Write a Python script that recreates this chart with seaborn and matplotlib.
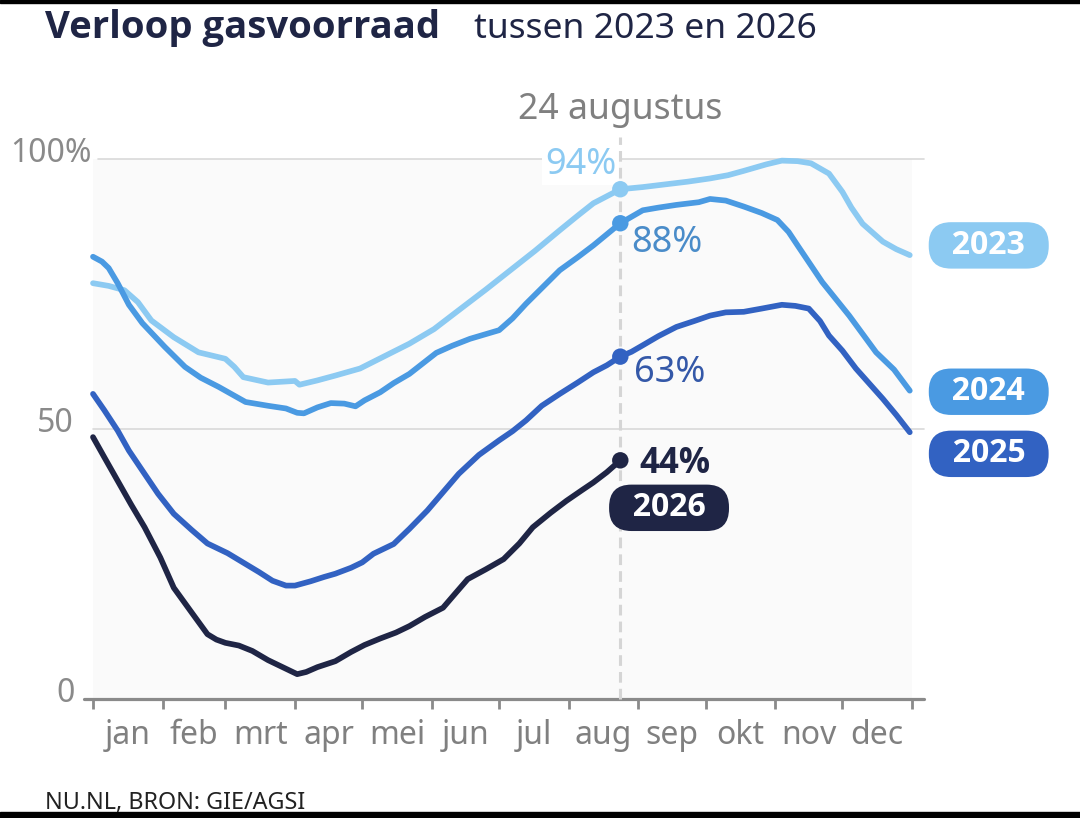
import numpy as np
import pandas as pd
import matplotlib
matplotlib.use("Agg")
import matplotlib.pyplot as plt
import matplotlib.transforms as mtransforms
from matplotlib.patches import Rectangle
import seaborn as sns

# ---------------- data ----------------
years = ["2023", "2024", "2025", "2026"]

days_2023 = [0, 7, 14, 20, 26, 36, 47, 59, 63, 67, 78, 90, 92, 100, 108, 119, 130, 141, 152, 163,
             175, 186, 197, 208, 216, 223, 235, 245, 253, 265, 275, 283, 290, 300, 307, 314, 320,
             328, 334, 338, 343, 352, 358, 364]
vals_2023 = [77.0, 76.5, 75.7, 73.5, 70.1, 67.0, 64.2, 63.0, 61.5, 59.6, 58.6, 58.9, 58.2, 59.0, 59.9,
             61.2, 63.5, 65.8, 68.5, 72.0, 75.8, 79.4, 83.0, 86.8, 89.5, 91.8, 94.4, 94.8, 95.2, 95.8,
             96.4, 97.0, 97.8, 99.0, 99.7, 99.6, 99.2, 97.3, 93.9, 91.0, 88.0, 84.7, 83.3, 82.2]

days_2024 = [0, 4, 7, 11, 16, 22, 32, 41, 48, 56, 68, 78, 86, 91, 94, 100, 106, 112, 117, 121, 128,
             134, 141, 153, 160, 168, 181, 187, 193, 208, 216, 223, 235, 245, 252, 260, 270, 275,
             282, 290, 298, 305, 310, 314, 325, 337, 349, 357, 364]
vals_2024 = [81.9, 81.0, 79.8, 77.0, 73.0, 69.6, 65.2, 61.5, 59.5, 57.8, 55.0, 54.3, 53.8, 53.0, 52.9,
             54.0, 54.8, 54.7, 54.2, 55.3, 56.8, 58.5, 60.2, 64.1, 65.4, 66.7, 68.3, 70.5, 73.2, 79.4,
             81.8, 84.0, 88.1, 90.5, 91.0, 91.5, 92.0, 92.6, 92.3, 91.2, 90.0, 88.7, 86.5, 84.0, 77.2,
             71.0, 64.2, 61.0, 57.1]

days_2025 = [0, 5, 11, 16, 22, 29, 36, 44, 51, 60, 68, 74, 80, 86, 90, 97, 103, 108, 115, 120, 125,
             134, 141, 149, 156, 163, 172, 181, 187, 193, 200, 208, 216, 223, 229, 235, 240, 245,
             252, 260, 268, 275, 282, 290, 298, 307, 313, 319, 324, 328, 334, 340, 346, 352, 358, 364]
vals_2025 = [56.5, 53.5, 49.7, 46.0, 42.3, 38.0, 34.3, 31.3, 28.8, 27.0, 25.0, 23.5, 21.9, 21.0, 21.0,
             21.8, 22.6, 23.2, 24.3, 25.3, 26.9, 28.7, 31.5, 34.9, 38.3, 41.7, 45.2, 47.9, 49.6, 51.6,
             54.3, 56.5, 58.6, 60.5, 61.8, 63.4, 64.3, 65.5, 67.2, 68.9, 70.0, 71.0, 71.6, 71.7, 72.3,
             73.0, 72.8, 72.3, 70.0, 67.3, 64.5, 61.2, 58.4, 55.6, 52.6, 49.4]

days_2026 = [0, 5, 11, 17, 23, 30, 36, 44, 51, 55, 59, 65, 71, 78, 85, 91, 95, 100, 108, 115, 121,
             128, 135, 141, 148, 156, 162, 167, 175, 183, 190, 196, 204, 211, 218, 223, 229, 235]
vals_2026 = [48.5, 44.8, 40.4, 36.0, 31.8, 26.2, 20.6, 16.0, 12.0, 11.0, 10.4, 9.9, 8.9, 7.2, 5.8, 4.6,
             5.0, 5.9, 7.0, 8.7, 10.0, 11.2, 12.3, 13.5, 15.2, 16.9, 19.8, 22.2, 24.0, 25.9, 28.8,
             31.8, 34.5, 36.7, 38.7, 40.1, 42.0, 44.2]

months = ["jan", "feb", "mrt", "apr", "mei", "jun", "jul", "aug", "sep", "okt", "nov", "dec"]
month_starts = [0, 31, 59, 90, 120, 151, 181, 212, 243, 273, 304, 334, 365]
y_ticks = [0, 50, 100]
y_tick_labels = ["0", "50", "100%"]

marker_day = 235
date_label = "24 augustus"
pct_labels = ["94%", "88%", "63%", "44%"]

title = "Verloop gasvoorraad"
subtitle = "tussen 2023 en 2026"
source = "NU.NL, BRON: GIE/AGSI"

colors = {"2023": "#8ccaf2", "2024": "#4a9ae2", "2025": "#3262c2", "2026": "#1f2545"}
pct_colors = {"2023": "#8ccaf2", "2024": "#4a8cc9", "2025": "#3458a8", "2026": "#1f2545"}

# ---------------- frame ----------------
series = {"2023": (days_2023, vals_2023), "2024": (days_2024, vals_2024),
          "2025": (days_2025, vals_2025), "2026": (days_2026, vals_2026)}
df = pd.concat([pd.DataFrame({"day": d, "value": v, "year": y}) for y, (d, v) in series.items()],
               ignore_index=True)

sns.set_theme(style="white")
plt.rcParams["font.family"] = ["Noto Sans", "DejaVu Sans"]
BOLD = ["Open Sans", "Noto Sans", "DejaVu Sans"]

W, H = 1080, 818
fig = plt.figure(figsize=(W / 100, H / 100), dpi=100)
fig.patch.set_facecolor("white")
ax = fig.add_axes([93 / W, 1 - 699 / H, 819 / W, 540 / H])
ax.set_facecolor("#fafafa")
for s in ax.spines.values():
    s.set_visible(False)

ax.set_xlim(0, 365)
ax.set_ylim(0, 100)

# grid lines
ax.axhline(50, xmin=0, xmax=831 / 819, color="#d9d9d9", lw=1.2, clip_on=False, zorder=0.5)
ax.axhline(100, xmin=5 / 819, xmax=831 / 819, color="#d9d9d9", lw=1.2, clip_on=False, zorder=0.5)
ax.axhline(0, xmin=-9 / 819, xmax=831 / 819, color="#8a8a8a", lw=2.3, clip_on=False, zorder=3)

# dashed date line
ax.axvline(marker_day, ymin=0, ymax=(699 - 137) / 540, color="#d5d5d5", lw=2.2,
           ls=(0, (3.5, 2.0)), clip_on=False, zorder=4)

sns.lineplot(data=df, x="day", y="value", hue="year", palette=colors, hue_order=years,
             linewidth=4.1, legend=False, ax=ax, estimator=None, sort=False,
             solid_capstyle="round", solid_joinstyle="round", clip_on=False, zorder=3)

sub = df[df["day"] == marker_day]
sns.scatterplot(data=sub, x="day", y="value", hue="year", palette=colors, hue_order=years,
                s=140, legend=False, ax=ax, edgecolor="none", zorder=5, clip_on=False)

ax.set_xlabel("")
ax.set_ylabel("")
ax.set_xticks(month_starts)
ax.set_xticklabels([])
ax.set_yticks([])
ax.tick_params(axis="x", bottom=True, length=7, width=2, color="#8a8a8a", direction="out")

tr_x = mtransforms.blended_transform_factory(ax.transData, ax.transAxes)
tr_y = mtransforms.blended_transform_factory(ax.transAxes, ax.transData)

for i, m in enumerate(months):
    mid = (month_starts[i] + month_starts[i + 1]) / 2
    ax.text(mid, -0.084, m, transform=tr_x, ha="center", va="baseline", fontsize=23, color="#808080")

y_label_x = {0: -18 / 819, 50: -19 / 819, 100: -1 / 819}
for v, lab in zip(y_ticks, y_tick_labels):
    ax.text(y_label_x[v], v + 1.0, lab, transform=tr_y, ha="right", va="center",
            fontsize=23, color="#8a8a8a")

ax.text(marker_day, (699 - 119.3) / 540, date_label, transform=tr_x, ha="center",
        va="baseline", fontsize=25.6, color="#808080")

# value labels at the date line
offsets = {"2023": (-2.7, 11.3, "right"), "2024": (8.1, -20.4, "left"),
           "2025": (9.6, -18.4, "left"), "2026": (13.7, -9.1, "left")}
for y, lab in zip(years, pct_labels):
    val = sub.loc[sub["year"] == y, "value"].iloc[0]
    dx, dy, ha = offsets[y]
    kw = {}
    if y == "2023":
        kw["bbox"] = dict(boxstyle="square,pad=0.08", fc="white", ec="none")
    if y == "2026":
        kw["family"] = BOLD
        kw["fontweight"] = "bold"
    ax.annotate(lab, xy=(marker_day, val), xytext=(dx, dy), textcoords="offset points",
                ha=ha, va="baseline", fontsize=26 if y != "2026" else 25,
                color=pct_colors[y], zorder=3.5, annotation_clip=False, **kw)

# year pills
pill_dy = {"2023": 1.8, "2024": -0.2, "2025": -4.0}
for y in ["2023", "2024", "2025"]:
    last = series[y][1][-1]
    ax.text(1.0937, last + pill_dy[y], "  " + y + "  ", transform=tr_y, ha="center", va="center",
            fontsize=23, fontweight="bold", family=BOLD, color="white", zorder=6,
            bbox=dict(boxstyle="round,pad=0.21,rounding_size=0.7", fc=colors[y], ec="none"))
last26 = series["2026"][1][-1]
ax.annotate("  2026  ", xy=(marker_day, last26), xytext=(35.1, -34.2), textcoords="offset points",
            ha="center", va="center", fontsize=23, fontweight="bold", family=BOLD, color="white",
            annotation_clip=False, zorder=6,
            bbox=dict(boxstyle="round,pad=0.21,rounding_size=0.7", fc=colors["2026"], ec="none"))

# titles
fig.text(45 / W, 1 - 38 / H, title, fontsize=27.5, fontweight="bold", family=BOLD,
         color="#1f2545", va="baseline")
fig.text(474 / W, 1 - 38 / H, subtitle, fontsize=25.5, color="#1f2545", va="baseline")
fig.text(45 / W, 1 - 809 / H, source, fontsize=16.8, color="#222222", va="baseline")

# black screen edges
fig.patches.append(Rectangle((0, 1 - 3 / H), 1, 3 / H, transform=fig.transFigure, color="black", zorder=10))
fig.patches.append(Rectangle((0, 0), 1, 6 / H, transform=fig.transFigure, color="black", zorder=10))

fig.savefig("out.png", dpi=100)
